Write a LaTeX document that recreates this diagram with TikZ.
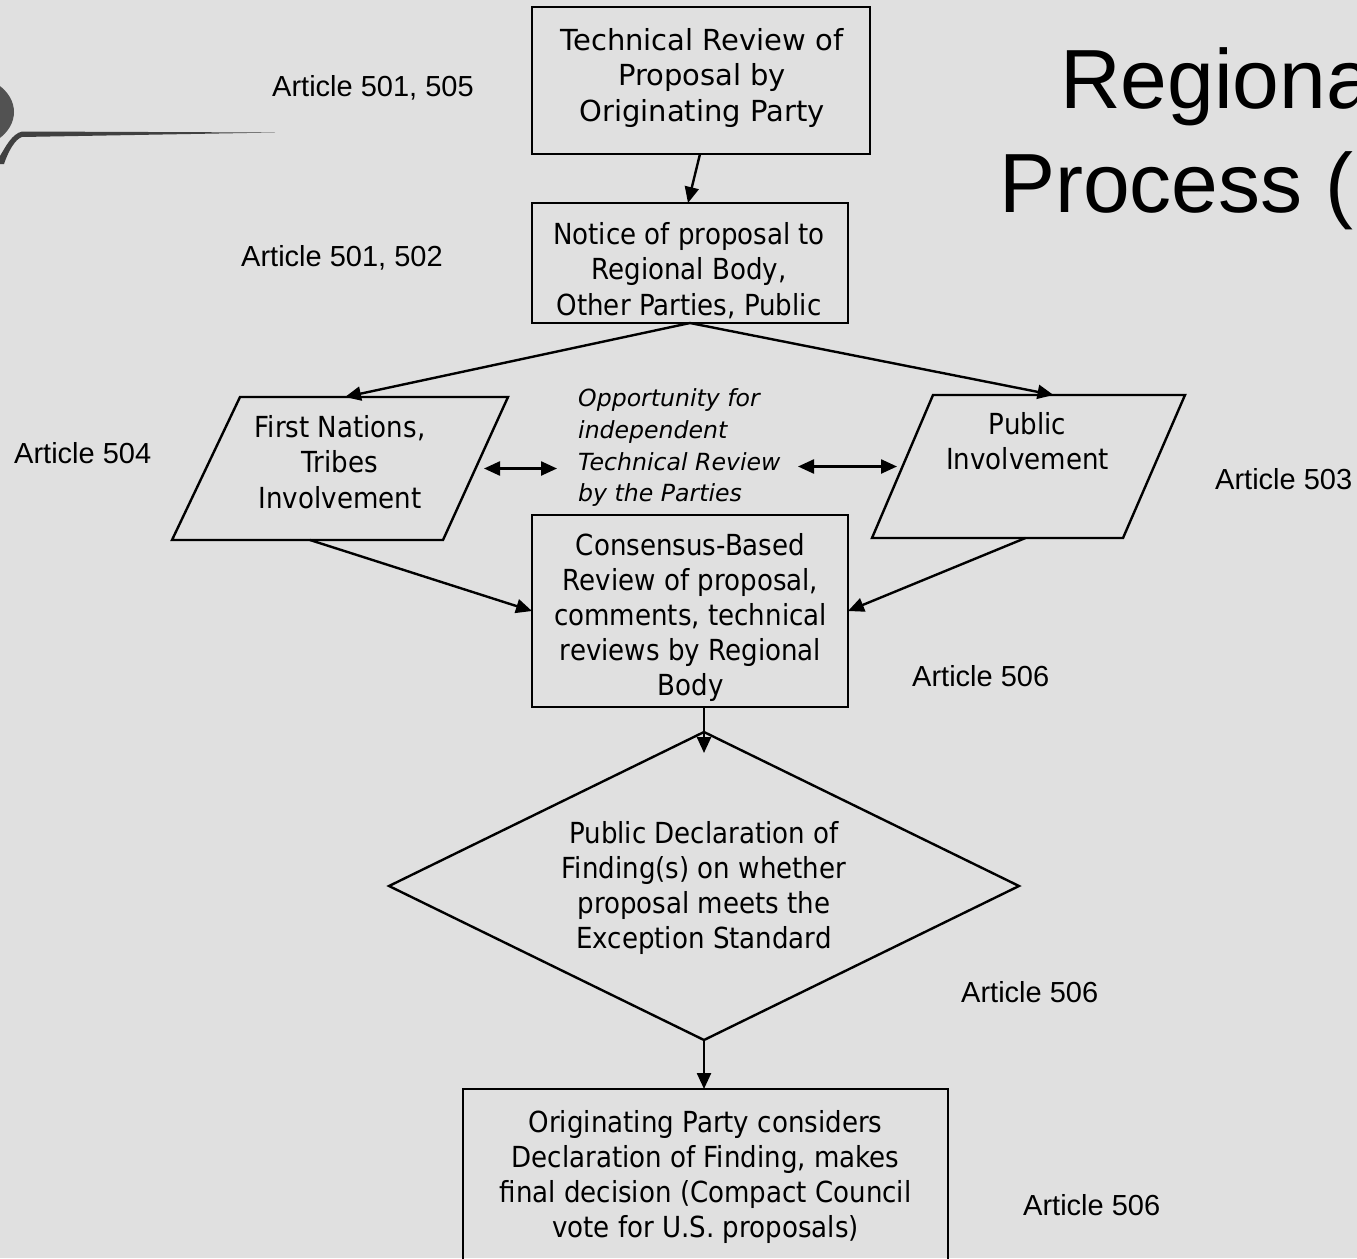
\documentclass[tikz,border=0pt]{standalone}
\usepackage{fontspec}
\setmainfont{DejaVu Sans}
\newfontfamily\verd{DejaVu Sans}
\newfontfamily\tah[FakeStretch=0.9]{DejaVu Sans}
\newfontfamily\arial{Liberation Sans}
\usetikzlibrary{arrows.meta,shapes.geometric,calc}

\tikzset{
  frame/.style={draw=black, line width=2.4pt, inner sep=0pt, outer sep=0pt},
  rbox/.style={frame, rectangle},
  slot/.style={rectangle, inner sep=0pt, outer sep=0pt},
  decision/.style={frame, diamond},
  flowtext/.style={anchor=north, inner sep=0pt, align=center,
    font=\tah\fontsize{29}{#1}\selectfont, yshift={0.7*#1-3},
    execute at begin node=\strut},
  flowtext/.default=35,
  widetext/.style={flowtext=35.5, font=\verd\fontsize{29}{35.5}\selectfont},
  note/.style={anchor=north west, inner sep=0pt, align=left,
    font=\verd\itshape\fontsize{23.6}{31.7}\selectfont, yshift=18pt,
    execute at begin node=\strut},
  article/.style={anchor=base west, inner sep=0pt, font=\arial\fontsize{29}{34}\selectfont},
  heading/.style={anchor=base west, inner sep=0pt, font=\arial\fontsize{84}{96}\selectfont},
  tip/.tip={Triangle[length=16pt,width=14pt]},
  flow/.style={line width=2.4pt, -tip},
  twoway/.style={line width=2.4pt, tip-tip},
  edge line/.style={draw=black, line width=2.4pt, line join=miter},
}

\begin{document}
\begin{tikzpicture}[x=1pt,y=-1pt]
\useasboundingbox (0,0) rectangle (1357,1258);
\fill[black!12] (0,0) rectangle (1357,1258);
\clip (0,0) rectangle (1357,1258);

% corner ornament
\fill[black!68] (-38,112) ellipse [x radius=52, y radius=38];
\fill[black!75] (0,164) -- (0,156) .. controls (6,146) and (12,134) .. (22,131.5)
  -- (275,132.5) -- (22,137) .. controls (15,139) and (8,152) .. (4,164) -- cycle;

% title
\node[heading] (title1) at (1060,108) {Regional};
\node[heading] (title2) at (999,212) {Process (};

% process shapes
\node[rbox, minimum width=338pt, minimum height=147pt] (b1) at (701,80.5) {};
\node[rbox, minimum width=316pt, minimum height=120pt] (b2) at (690,263) {};
\node[slot, minimum width=336pt, minimum height=143pt] (lp) at (340,468.5) {};
\draw[edge line] ([xshift=68pt]lp.north west) -- (lp.north east)
  -- ([xshift=-65pt]lp.south east) -- (lp.south west) -- cycle;
\node[slot, minimum width=313pt, minimum height=143pt] (rp) at (1028.5,466.5) {};
\draw[edge line] ([xshift=61pt]rp.north west) -- (rp.north east)
  -- ([xshift=-62pt]rp.south east) -- (rp.south west) -- cycle;
\node[rbox, minimum width=316pt, minimum height=192pt] (b3) at (690,611) {};
\node[decision, minimum width=630pt, minimum height=308pt] (dia) at (704,886) {};
\node[rbox, minimum width=485pt, minimum height=176pt] (b4) at (705.5,1177) {};

% texts
\node[widetext] (t1) at (702,50) {Technical Review of\\Proposal by\\Originating Party};
\node[flowtext=35.5] (t2) at (689,244) {Notice of proposal to\\Regional Body,\\Other Parties, Public};
\node[flowtext=35.5] (tlp) at (340,437) {First Nations,\\Tribes\\Involvement};
\node[flowtext=35.5] (trp) at (1027.5,434) {Public\\Involvement};
\node[flowtext] (t3) at (690.5,555) {Consensus-Based\\Review of proposal,\\comments, technical\\reviews by Regional\\Body};
\node[flowtext] (tdia) at (704,843) {Public Declaration of\\Finding(s) on whether\\proposal meets the\\Exception Standard};
\node[flowtext] (t4) at (705.5,1132) {Originating Party considers\\Declaration of Finding, makes\\final decision (Compact Council\\vote for U.S. proposals)};
\node[note] (opp) at (578,406.7) {Opportunity for\\independent\\Technical Review\\by the Parties};

% article references
\node[article] (a1) at (272,96) {Article 501, 505};
\node[article] (a2) at (241,266.5) {Article 501, 502};
\node[article] (a3) at (14,463.5) {Article 504};
\node[article] (a4) at (1215,489.5) {Article 503};
\node[article] (a5) at (912,686.5) {Article 506};
\node[article] (a6) at (961,1002) {Article 506};
\node[article] (a7) at (1023,1215.5) {Article 506};

% connectors
\draw[flow] ([xshift=-1pt]b1.south) -- ([xshift=-2pt]b2.north);
\draw[flow] (b2.south) -- ([xshift=5pt]lp.north);
\draw[flow] (b2.south) -- ([xshift=25pt]rp.north);
\draw[flow] ([xshift=-30pt]lp.south) -- (b3.west);
\draw[flow] ([xshift=-3pt]rp.south) -- (b3.east);
\draw[flow] ([xshift=14pt]b3.south) -- ([yshift=-21pt]dia.north);
\draw[flow] (dia.south) -- (dia.south |- b4.north);
\draw[twoway] ([xshift=-24pt]lp.east) -- ($(opp.west |- lp.east)+(-21,0)$);
\draw[twoway] ([xshift=-74pt]rp.west) -- ([xshift=25pt]rp.west);
\end{tikzpicture}
\end{document}
